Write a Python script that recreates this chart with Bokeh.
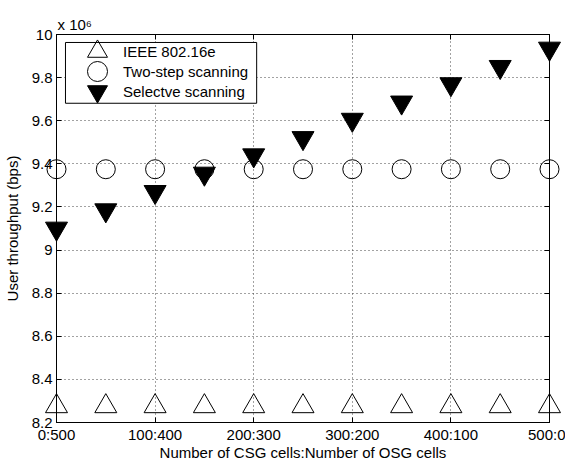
from bokeh.plotting import figure
from bokeh.models import (Range1d, FixedTicker, LinearAxis, Legend, LegendItem,
                          BoxAnnotation, Title)
from bokeh.embed import file_html
from bokeh.resources import INLINE

# ---- data (throughput in units of 10^6 bps) ----
csg_cells = [0, 50, 100, 150, 200, 250, 300, 350, 400, 450, 500]
ieee_80216e = [8.275, 8.275, 8.275, 8.275, 8.275, 8.275, 8.275, 8.275, 8.275, 8.275, 8.275]
two_step = [9.375, 9.375, 9.375, 9.375, 9.375, 9.375, 9.375, 9.375, 9.375, 9.375, 9.375]
selective = [9.10, 9.185, 9.27, 9.355, 9.44, 9.52, 9.605, 9.685, 9.77, 9.85, 9.935]

series_labels = ["IEEE 802.16e", "Two-step scanning", "Selectve scanning"]

x_ticks = [0, 100, 200, 300, 400, 500]
x_tick_labels = ["0:500", "100:400", "200:300", "300:200", "400:100", "500:0"]
y_ticks = [8.2, 8.4, 8.6, 8.8, 9.0, 9.2, 9.4, 9.6, 9.8, 10.0]
y_tick_labels = ["8.2", "8.4", "8.6", "8.8", "9", "9.2", "9.4", "9.6", "9.8", "10"]

FONT = "Liberation Sans"
FS = "15px"

p = figure(width=565, height=463, x_range=Range1d(0, 500), y_range=Range1d(8.2, 10),
           output_backend="svg", toolbar_location=None,
           min_border_left=54, min_border_right=16, min_border_top=34, min_border_bottom=40)
p.background_fill_color = "white"
p.border_fill_color = "white"
p.outline_line_color = "black"
p.outline_line_width = 1

for ax in (p.xaxis[0], p.yaxis[0]):
    ax.major_tick_in = 5
    ax.major_tick_out = 0
    ax.minor_tick_in = 0
    ax.minor_tick_out = 0
    ax.axis_line_color = "black"
    ax.major_tick_line_color = "black"
    ax.major_label_text_font = FONT
    ax.major_label_text_font_size = FS
    ax.major_label_text_color = "black"
    ax.axis_label_text_font = FONT
    ax.axis_label_text_font_size = FS
    ax.axis_label_text_font_style = "normal"
    ax.axis_label_text_color = "black"

p.xaxis.ticker = FixedTicker(ticks=x_ticks)
p.xaxis.major_label_overrides = dict(zip(x_ticks, x_tick_labels))
p.xaxis.major_label_standoff = 3
p.xaxis.axis_label = "Number of CSG cells:Number of OSG cells"
p.xaxis.axis_label_standoff = -2

p.yaxis.ticker = FixedTicker(ticks=y_ticks)
p.yaxis.major_label_overrides = dict(zip(y_ticks, y_tick_labels))
p.yaxis.major_label_standoff = 4
p.yaxis.axis_label = "User throughput (bps)"
p.yaxis.axis_label_standoff = 8

p.xgrid.ticker = FixedTicker(ticks=x_ticks)
p.ygrid.ticker = FixedTicker(ticks=y_ticks)
for g in (p.xgrid[0], p.ygrid[0]):
    g.grid_line_color = "#444444"
    g.grid_line_dash = "1 3"
    g.grid_line_width = 1

top = LinearAxis(ticker=FixedTicker(ticks=x_ticks),
                 major_label_overrides={t: "" for t in x_ticks},
                 major_tick_in=5, major_tick_out=0, minor_tick_in=0, minor_tick_out=0,
                 major_label_standoff=0, axis_line_color="black")
right = LinearAxis(ticker=FixedTicker(ticks=y_ticks),
                   major_label_overrides={t: "" for t in y_ticks},
                   major_tick_in=5, major_tick_out=0, minor_tick_in=0, minor_tick_out=0,
                   major_label_standoff=0, axis_line_color="black")
p.add_layout(top, "above")
p.add_layout(right, "right")

# exponent note above the y axis
p.add_layout(Title(text="x 10\u2076", align="left", offset=1, standoff=4,
                   text_font=FONT, text_font_size=FS, text_font_style="normal",
                   text_color="black"), "above")

r1 = p.scatter(csg_cells, ieee_80216e, marker="triangle", size=22, fill_color=None,
               line_color="black", line_width=1, level="overlay")
r2 = p.scatter(csg_cells, two_step, marker="circle", size=19, fill_color=None,
               line_color="black", line_width=1, level="overlay")
r3 = p.scatter(csg_cells, selective, marker="inverted_triangle", size=22, fill_color="black",
               line_color="black", line_width=1, level="overlay")

box = BoxAnnotation(left=9.1, right=203, top=9.963, bottom=9.681,
                    fill_color="white", fill_alpha=1, line_color="black", line_width=1,
                    line_alpha=1, level="overlay")
p.add_layout(box)

# one legend per entry so that the 20px legend symbols can sit 20px apart
for i, (lab, rr) in enumerate(zip(series_labels, [r1, r2, r3])):
    lg = Legend(items=[LegendItem(label=lab, renderers=[rr])],
                location=(16, 346 - 20 * i), glyph_width=50, glyph_height=50,
                padding=0, margin=0, label_standoff=1, label_height=20, spacing=0,
                border_line_alpha=0, background_fill_alpha=0, level="overlay",
                label_text_font=FONT, label_text_font_size=FS, label_text_color="black")
    p.add_layout(lg)

open("out.html", "w").write(file_html(p, INLINE))
